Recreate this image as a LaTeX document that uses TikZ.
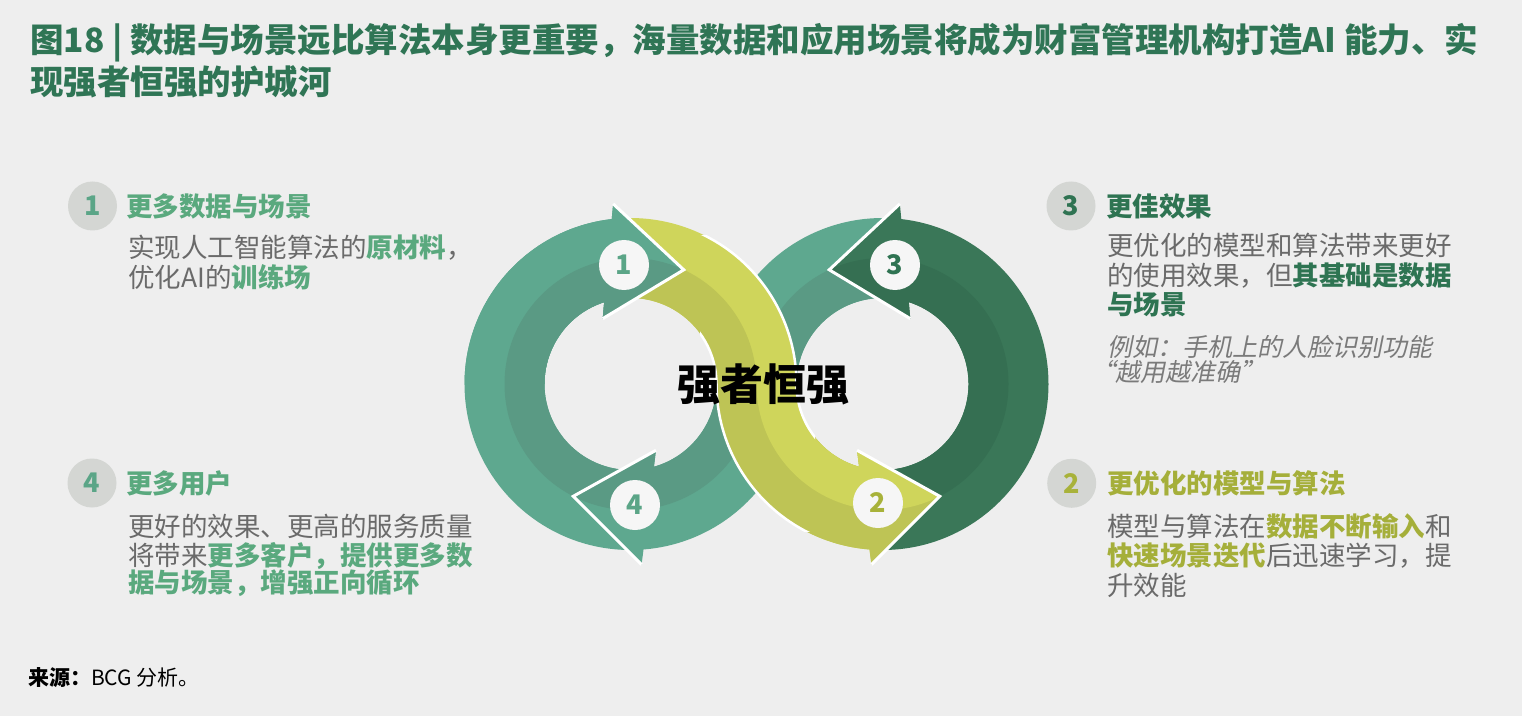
\documentclass[tikz,border=0pt]{standalone}
\usepackage{fontspec}
\setmainfont{Noto Sans CJK SC}
\newfontfamily\cjkit[FakeSlant=0.2]{Noto Sans CJK SC}
\usetikzlibrary{calc}
\definecolor{bg}{HTML}{EEEEEE}
\definecolor{titlegreen}{HTML}{2F7555}
\definecolor{tealL}{HTML}{5EA88F}
\definecolor{tealD}{HTML}{5A9A84}
\definecolor{yelL}{HTML}{CFD55B}
\definecolor{yelD}{HTML}{BEC455}
\definecolor{dgL}{HTML}{3A7758}
\definecolor{dgD}{HTML}{356F52}
\definecolor{numteal}{HTML}{5BA587}
\definecolor{numolive}{HTML}{A8B23A}
\definecolor{numdg}{HTML}{2F7352}
\definecolor{greyc}{HTML}{D4D6D3}
\definecolor{bodygrey}{HTML}{6A6A6A}
\definecolor{hlgreen}{HTML}{5AA97E}
\definecolor{hldg}{HTML}{2E7452}
\definecolor{hlolive}{HTML}{A5AF3A}
\definecolor{itgrey}{HTML}{7A7A7A}
\definecolor{circw}{HTML}{F6F6F6}
\newcommand{\hlg}[1]{\textcolor{hlgreen}{\bfseries #1}}
\newcommand{\hld}[1]{\textcolor{hldg}{\bfseries #1}}
\newcommand{\hlo}[1]{\textcolor{hlolive}{\bfseries #1}}
\def\arrowone{($(L)+(271.5:166)$) arc[start angle=271.5,end angle=96.5,radius=166] -- ($(L)+(95.5:181)$) -- ($(L)+(65:126)$) -- ($(L)+(113:71)$) -- ($(L)+(107.8:86)$) arc[start angle=107.8,end angle=271.5,radius=86] -- cycle}
\def\arrowthree{($(R)+(268.5:166)$) arc[start angle=268.5,end angle=443.5,radius=166] -- ($(R)+(84.5:181)$) -- ($(R)+(115:126)$) -- ($(R)+(67:71)$) -- ($(R)+(72.2:86)$) arc[start angle=72.2,end angle=-91.5,radius=86] -- cycle}
\def\arrowfour{($(R)+(86.5:166)$) arc[start angle=86.5,end angle=180,radius=166] arc[start angle=0,end angle=-74.2,radius=86] -- ($(L)+(291:71)$) -- ($(L)+(243:126)$) -- ($(L)+(273.5:181)$) -- ($(L)+(274.5:166)$) arc[start angle=-85.5,end angle=0,radius=166] arc[start angle=180,end angle=86.5,radius=86] -- cycle}
\def\arrowtwo{($(L)+(93.5:166)$) arc[start angle=93.5,end angle=0,radius=166] arc[start angle=180,end angle=254.2,radius=86] -- ($(R)+(249:71)$) -- ($(R)+(297:126)$) -- ($(R)+(266.5:181)$) -- ($(R)+(265.5:166)$) arc[start angle=265.5,end angle=180,radius=166] arc[start angle=0,end angle=93.5,radius=86] -- cycle}
\begin{document}
\begin{tikzpicture}[x=1pt,y=1pt,
  bodytxt/.style={anchor=west,inner sep=0pt,text=bodygrey,font=\fontsize{26.5}{30}\selectfont},
  headtxt/.style={anchor=west,inner sep=0pt,font=\bfseries\fontsize{26.5}{30}\selectfont},
  ittxt/.style={anchor=west,inner sep=0pt,text=itgrey,font=\cjkit\fontsize{25}{30}\selectfont},
  sidecirc/.style={circle,fill=greyc,minimum size=49pt,inner sep=0pt,font=\bfseries\fontsize{27}{27}\selectfont},
  numcirc/.style={circle,fill=circw,minimum size=50pt,inner sep=0pt,font=\bfseries\fontsize{27}{27}\selectfont},
  headedge/.style={draw=white,line width=3pt,line join=miter},
  titletxt/.style={anchor=base west,inner sep=0pt,text=titlegreen,font=\bfseries\fontsize{33.5}{42}\selectfont}]
\fill[bg] (0,0) rectangle (1522,716);
\useasboundingbox (0,0) rectangle (1522,716);
\coordinate (L) at (630.5,332);
\coordinate (R) at (882.5,332);
% title
\node[titletxt] (t1) at (30,663.3) {图18 | 数据与场景远比算法本身更重要，海量数据和应用场景将成为财富管理机构打造AI 能力、实};
\node[titletxt] (t2) at (30,621.3) {现强者恒强的护城河};
% arrow 1
\fill[tealL] \arrowone;
\begin{scope}\clip \arrowone; \fill[tealD] (L) circle[radius=126]; \end{scope}
% arrow 4
\fill[tealL] \arrowfour;
\begin{scope}\clip \arrowfour;
  \fill[tealD] ($(R)+(-126,0)$) arc[start angle=180,end angle=0,radius=126] -- cycle;
  \fill[tealD] ($(L)+(126,0)$) arc[start angle=0,end angle=-180,radius=126] -- cycle;
\end{scope}
\draw[headedge] ($(L)+(273.5:181)$) -- ($(L)+(243:126)$) -- ($(L)+(291:71)$);
% arrow 3
\fill[dgL] \arrowthree;
\begin{scope}\clip \arrowthree; \fill[dgD] (R) circle[radius=126]; \end{scope}
\draw[headedge] ($(R)+(84.5:181)$) -- ($(R)+(115:126)$) -- ($(R)+(67:71)$);
% arrow 2 (yellow)
\fill[yelL] \arrowtwo;
\begin{scope}\clip \arrowtwo;
  \fill[yelD] ($(L)+(-126,0)$) arc[start angle=180,end angle=0,radius=126] -- cycle;
  \fill[yelD] (550,100) rectangle (1100,332);
  \fill[yelL] ($(R)+(126,0)$) arc[start angle=0,end angle=-180,radius=126] -- cycle;
\end{scope}
\begin{scope}\clip (700,185) rectangle (815,480);
  \draw[draw=white,line width=2.5pt] \arrowtwo;
\end{scope}
\draw[headedge] ($(R)+(266.5:181)$) -- ($(R)+(297:126)$) -- ($(R)+(249:71)$);
% arrow 1 head again on top
\begin{scope}\clip (400,332) rectangle (760,600);
  \fill[tealL] \arrowone;
  \begin{scope}\clip \arrowone; \fill[tealD] (L) circle[radius=126]; \end{scope}
\end{scope}
\draw[headedge] ($(L)+(95.5:181)$) -- ($(L)+(65:126)$) -- ($(L)+(113:71)$);
% number circles
\node[numcirc,text=numteal] (c1) at (624,451) {1};
\node[numcirc,text=numdg] (c3) at (895,451) {3};
\node[numcirc,text=numteal] (c4) at (635,211) {4};
\node[numcirc,text=numolive] (c2) at (878,213) {2};
\node[inner sep=0pt,font=\bfseries\fontsize{43}{43}\selectfont] (center) at (763,332) {强者恒强};
% block 1
\node[sidecirc,text=numteal] (s1) at (92.5,510) {1};
\node[headtxt,text=hlgreen] (h1) at (126,510) {更多数据与场景};
\node[bodytxt] (b11) at (128,468) {实现人工智能算法的\hlg{原材料}，};
\node[bodytxt] (b12) at (128,439) {优化AI的\hlg{训练场}};
% block 4
\node[sidecirc,text=numteal] (s4) at (92,233) {4};
\node[headtxt,text=hlgreen] (h4) at (126,233) {更多用户};
\node[bodytxt] (b41) at (128,189.3) {更好的效果、更高的服务质量};
\node[bodytxt] (b42) at (128,160) {将带来\hlg{更多客户，提供更多数}};
\node[bodytxt] (b43) at (128,132.7) {\hlg{据与场景，增强正向循环}};
% block 3
\node[sidecirc,text=numdg] (s3) at (1071,510) {3};
\node[headtxt,text=hldg] (h3) at (1106,510) {更佳效果};
\node[bodytxt] (b31) at (1107,470.3) {更优化的模型和算法带来更好};
\node[bodytxt] (b32) at (1107,440) {的使用效果，但\hld{其基础是数据}};
\node[bodytxt] (b33) at (1107,411) {\hld{与场景}};
\node[ittxt] (i31) at (1107,369.3) {例如：手机上的人脸识别功能};
\node[ittxt] (i32) at (1090,344.3) {“越用越准确”};
% block 2
\node[sidecirc,text=numolive] (s2) at (1071.7,232.7) {2};
\node[headtxt,text=hlolive] (h2) at (1107,233) {更优化的模型与算法};
\node[bodytxt] (b21) at (1107,190) {模型与算法在\hlo{数据不断输入}和};
\node[bodytxt] (b22) at (1107,160) {\hlo{快速场景迭代}后迅速学习，提};
\node[bodytxt] (b23) at (1107,131) {升效能};
% source
\node[anchor=west,inner sep=0pt,font=\fontsize{21}{21}\selectfont] (src) at (28,38) {{\bfseries 来源：}BCG 分析。};
\end{tikzpicture}
\end{document}
